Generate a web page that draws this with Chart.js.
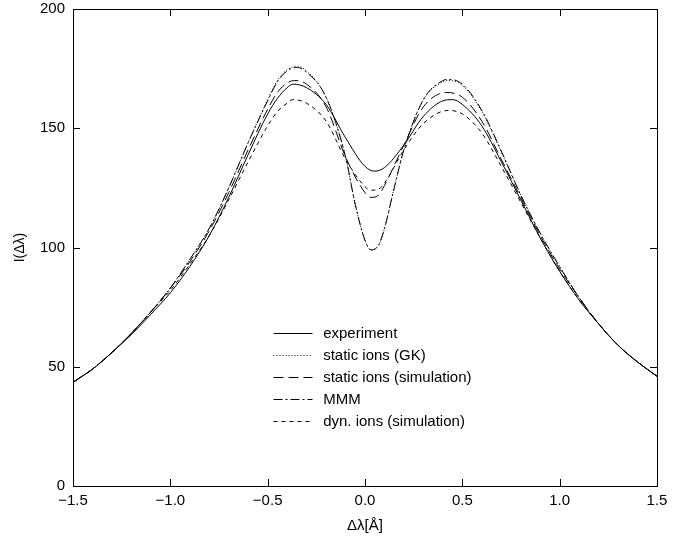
<!DOCTYPE html>
<html><head><meta charset="utf-8">
<script src="https://cdn.jsdelivr.net/npm/chart.js@4/dist/chart.umd.min.js"></script>
<style>html,body{margin:0;padding:0;background:#fff}#wrap{width:696px;height:537px}</style>
</head><body><div id="wrap"><canvas id="c" width="696" height="537"></canvas></div>
<script>
const seriesNames = ["experiment","static ions (GK)","static ions (simulation)","MMM","dyn. ions (simulation)"];
const xTicks = [-1.5,-1.0,-0.5,0.0,0.5,1.0,1.5];
const yTicks = [0,50,100,150,200];

const expX = [-1.5,-1.4,-1.3,-1.2,-1.1,-1.0,-0.9,-0.8,-0.7,-0.6,-0.5,-0.45,-0.4,-0.37,-0.3,-0.2,-0.1,0,0.05,0.1,0.2,0.3,0.4,0.45,0.5,0.6,0.7,0.8,0.9,1.0,1.1,1.2,1.3,1.4,1.5];
const expY = [43.5,49,56,63.5,72,81,92,105,121,139,156,162.5,167,168.5,167,160,146,134,132,133.5,143,155,161.5,162,160,151,136,120,104,90,78,68,59,52,46];

const gkX = [-1.5,-1.4,-1.3,-1.2,-1.1,-1.0,-0.9,-0.8,-0.7,-0.6,-0.5,-0.45,-0.4,-0.35,-0.3,-0.2,-0.1,-0.05,0,0.03,0.07,0.1,0.15,0.2,0.3,0.4,0.43,0.5,0.6,0.7,0.8,0.9,1.0,1.1,1.2,1.3,1.4,1.5];
const gkY = [43.5,49,56,64,73,83,95,108,125,144,162,170,174.5,176,174,163,138,118,103,99,101,108,125,141,162,169.5,170,168,157,140,122,106,92,79,68,59,52,46];

const mmmY = [43.5,49,56,64,73,83,95,108,125,144,161.5,169.5,174,175.5,173.5,163,138,118,103,99,101,108,125,141,162,170,170.5,168.5,157.5,140.5,122,106,92,79,68,59,52,46];

const simX = [-1.5,-1.4,-1.3,-1.2,-1.1,-1.0,-0.9,-0.8,-0.7,-0.6,-0.5,-0.45,-0.4,-0.36,-0.3,-0.2,-0.1,0,0.03,0.07,0.1,0.2,0.3,0.42,0.5,0.6,0.7,0.8,0.9,1.0,1.1,1.2,1.3,1.4,1.5];
const simY = [43.5,49,56,64,73,83,94,107,123,141,158,165,169,170,168.5,159,138,123,121,122,126,143,159,165,163,153,137,121,105,91,79,68,59,52,46];

const dynX = [-1.5,-1.4,-1.3,-1.2,-1.1,-1.0,-0.9,-0.8,-0.7,-0.6,-0.5,-0.45,-0.4,-0.37,-0.3,-0.2,-0.1,0,0.03,0.07,0.1,0.2,0.3,0.43,0.5,0.6,0.7,0.8,0.9,1.0,1.1,1.2,1.3,1.4,1.5];
const dynY = [43.5,49,56,64,73,82,93,105,120,136,151,157,160.5,162,160.5,153,137,125.5,124,124.5,127,141,152,157.5,156,148,134,119,104,90,78,68,59,52,46];

function pts(xs, ys){ return xs.map((x,i)=>({x:x,y:ys[i]})); }

const dashes = [[], [1,2], [10,5], [9,3,2,3], [4,4]];
const datasets = [
  {label:seriesNames[0], data:pts(expX,expY)},
  {label:seriesNames[1], data:pts(gkX,gkY)},
  {label:seriesNames[2], data:pts(simX,simY)},
  {label:seriesNames[3], data:pts(gkX,mmmY)},
  {label:seriesNames[4], data:pts(dynX,dynY)}
].map((d,i)=>Object.assign(d,{borderColor:'#000',borderWidth:1,borderDash:dashes[i],pointRadius:0,fill:false,cubicInterpolationMode:'monotone'}));

const FONT = "'Liberation Sans', Arial, sans-serif";
function fmtX(v){ const s=Math.abs(v).toFixed(1); return v<0 ? '\u2212'+s : s; }

const framePlugin = {
  id:'frame',
  afterDatasetsDraw(chart){
    const {ctx, chartArea:a, scales:{x,y}} = chart;
    ctx.save();
    ctx.strokeStyle='#000'; ctx.lineWidth=1; ctx.setLineDash([]);
    ctx.strokeRect(Math.round(a.left)+0.5, Math.round(a.top)+0.5, Math.round(a.right-a.left), Math.round(a.bottom-a.top));
    const L=7;
    ctx.beginPath();
    xTicks.forEach(v=>{ const px=Math.round(x.getPixelForValue(v))+0.5;
      ctx.moveTo(px,a.bottom); ctx.lineTo(px,a.bottom-L);
      ctx.moveTo(px,a.top); ctx.lineTo(px,a.top+L); });
    yTicks.forEach(v=>{ const py=Math.round(y.getPixelForValue(v))+0.5;
      ctx.moveTo(a.left,py); ctx.lineTo(a.left+L,py);
      ctx.moveTo(a.right,py); ctx.lineTo(a.right-L,py); });
    ctx.stroke();
    // legend
    const lx0 = x.getPixelForValue(-0.47), lx1 = x.getPixelForValue(-0.27), tx = x.getPixelForValue(-0.215);
    const ly = y.getPixelForValue(64);
    ctx.font = "15px "+FONT; ctx.fillStyle='#000'; ctx.textBaseline='middle'; ctx.textAlign='left';
    chart.data.datasets.forEach((d,i)=>{
      const yy = Math.round(ly + i*22)+0.5;
      ctx.setLineDash(d.borderDash); ctx.beginPath(); ctx.moveTo(lx0,yy); ctx.lineTo(lx1,yy); ctx.stroke();
      ctx.setLineDash([]); ctx.fillText(d.label, tx, yy);
    });
    ctx.restore();
  }
};

new Chart(document.getElementById('c'), {
  type:'line',
  data:{datasets:datasets},
  plugins:[framePlugin],
  options:{
    responsive:false, animation:false, devicePixelRatio:1,
    layout:{padding:{top:9,right:39,left:0,bottom:0}},
    plugins:{legend:{display:false}, tooltip:{enabled:false}},
    scales:{
      x:{type:'linear', min:-1.5, max:1.5,
        afterBuildTicks(s){ s.ticks = xTicks.map(v=>({value:v})); },
        afterFit(s){ s.height=51; s.paddingLeft=0; s.paddingRight=0; },
        grid:{display:false, drawTicks:false}, border:{display:false},
        ticks:{color:'#000', font:{family:FONT,size:15}, padding:6, maxRotation:0, autoSkip:false, callback:v=>fmtX(v)},
        title:{display:true, text:'\u0394\u03bb[\u00c5]', color:'#000', font:{family:FONT,size:15}, padding:{top:0,bottom:2}}
      },
      y:{type:'linear', min:0, max:200,
        afterBuildTicks(s){ s.ticks = yTicks.map(v=>({value:v})); },
        afterFit(s){ s.width=73; s.paddingTop=0; s.paddingBottom=0; },
        grid:{display:false, drawTicks:false}, border:{display:false},
        ticks:{color:'#000', font:{family:FONT,size:15}, padding:8, autoSkip:false},
        title:{display:true, text:'I(\u0394\u03bb)', color:'#000', font:{family:FONT,size:14}, padding:{top:12,bottom:4}}
      }
    }
  }
});
</script></body></html>
